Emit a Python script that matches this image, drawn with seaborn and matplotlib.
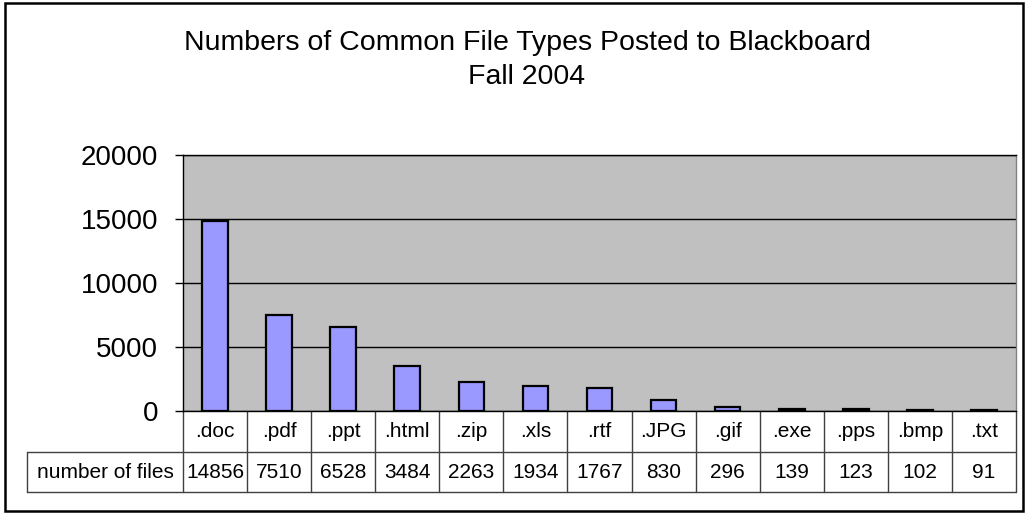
import matplotlib
matplotlib.use("Agg")
import matplotlib.pyplot as plt
import matplotlib.patches as patches
import seaborn as sns
import pandas as pd

categories = ['.doc', '.pdf', '.ppt', '.html', '.zip', '.xls', '.rtf',
              '.JPG', '.gif', '.exe', '.pps', '.bmp', '.txt']
counts = [14856, 7510, 6528, 3484, 2263, 1934, 1767, 830, 296, 139, 123, 102, 91]
row_label = 'number of files'
title = 'Numbers of Common File Types Posted to Blackboard\nFall 2004'

df = pd.DataFrame({'type': categories, 'files': counts})

sns.set_style('white')
plt.rcParams['font.family'] = ['Liberation Sans', 'DejaVu Sans']
plt.rcParams['text.color'] = 'black'
plt.rcParams['ytick.color'] = 'black'
plt.rcParams['ytick.labelcolor'] = 'black'

fig = plt.figure(figsize=(10.28, 5.14), dpi=100)
ax = fig.add_axes([183 / 1028, 1 - 411 / 514, 833 / 1028, 256 / 514])
ax.set_facecolor('#C0C0C0')
ax.set_axisbelow(True)

sns.barplot(data=df, x='type', y='files', ax=ax, color='#9999FF',
            edgecolor='black', linewidth=1.6, width=0.4, saturation=1)

ax.set_xlim(-0.5, len(categories) - 0.5)
ax.set_ylim(0, 20000)
ax.set_yticks([0, 5000, 10000, 15000, 20000])
ax.yaxis.grid(True, color='black', linewidth=1)
ax.set_xticks([])
ax.set_xlabel('')
ax.set_ylabel('')
ax.tick_params(axis='y', direction='out', length=6, width=1, color='black',
               pad=12, labelsize=20, left=True, labelcolor='black')
for side in ['top', 'left', 'bottom']:
    ax.spines[side].set_color('black')
    ax.spines[side].set_linewidth(1)
ax.spines['right'].set_color('#808080')
ax.spines['right'].set_linewidth(1)

# data table below the axis
trans = ax.get_xaxis_transform()
h1 = -41 / 256
h2 = -81 / 256
left_frac = (27 - 183) / 833
lc = '#404040'
for i in range(len(categories) + 1):
    ax.plot([i - 0.5, i - 0.5], [0, h2], transform=trans, color=lc,
            lw=1, clip_on=False)
ax.plot([left_frac, 1], [h1, h1], transform=ax.transAxes, color=lc, lw=1, clip_on=False)
ax.plot([left_frac, 1], [h2, h2], transform=ax.transAxes, color=lc, lw=1, clip_on=False)
ax.plot([left_frac, left_frac], [h1, h2], transform=ax.transAxes, color=lc, lw=1, clip_on=False)

for i, (cat, val) in enumerate(zip(categories, counts)):
    ax.text(i, h1 / 2, cat, transform=trans, ha='center', va='center',
            fontsize=15, color='black')
    ax.text(i, (h1 + h2) / 2, str(val), transform=trans, ha='center', va='center',
            fontsize=15, color='black')
ax.text(left_frac / 2, (h1 + h2) / 2, row_label, transform=ax.transAxes,
        ha='center', va='center', fontsize=15, color='black')

fig.text(527 / 1028, 1 - 60 / 514, title, ha='center', va='center',
         fontsize=20.5, linespacing=1.35, color='black')

fig.patches.append(patches.Rectangle((5 / 1028, 3 / 514), 1018 / 1028, 508 / 514,
                                     transform=fig.transFigure, fill=False,
                                     edgecolor='black', linewidth=1.8))

fig.savefig('out.png', dpi=100)
